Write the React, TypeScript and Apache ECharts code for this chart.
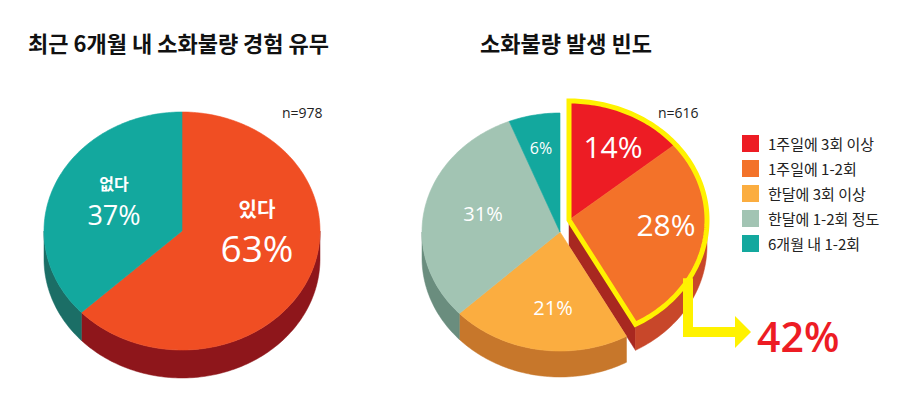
import React, { useEffect, useRef } from "react";
import * as echarts from "echarts";

// ---------------- data ----------------
const leftTitle = "최근 6개월 내 소화불량 경험 유무";
const rightTitle = "소화불량 발생 빈도";
const leftSampleSize = "n=978";
const rightSampleSize = "n=616";

const leftCategories = ["있다", "없다"];
const leftValues = [63, 37];

const rightCategories = [
  "1주일에 3회 이상",
  "1주일에 1-2회",
  "한달에 3회 이상",
  "한달에 1-2회 정도",
  "6개월 내 1-2회",
];
const rightValues = [14, 28, 21, 31, 6];
const rightHighlighted = [true, true, false, false, false];

// ---------------- styles / layout ----------------
const leftTopColors = ["#f04e23", "#13a89e"];
const leftSideColors = ["#8e161b", "#1b6e66"];
const leftFaceColors = ["#7a1216", "#155a54"];
const rightTopColors = ["#ed1c24", "#f37229", "#fbad40", "#a2c4b3", "#13a89e"];
const rightSideColors = ["#a01e20", "#c8472a", "#c7772b", "#6a8d7e", "#0f6e66"];
const rightFaceColors = ["#8f1a1c", "#a82820", "#a8601f", "#557467", "#0c5c55"];

const FONT_KR = '"Noto Sans CJK KR", "Noto Sans", sans-serif';
const FONT_NUM = '"Open Sans", "Noto Sans", sans-serif';

const LEFT_PIE = { cx: 182, cy: 231, rx: 138, ry: 119, depth: 28, dx: 0, dy: 0 };
const RIGHT_PIE = { cx: 560, cy: 232, rx: 138, ry: 119, depth: 26, dx: 9, dy: -12 };

// label positions relative to pie centre
const leftLabelLayout = [
  { name: [75, -23], value: [75, 16], nameSize: 20, valueSize: 37 },
  { name: [-68, -48], value: [-68, -17], nameSize: 16, valueSize: 27 },
];
const rightLabelLayout = [
  { value: [53, -86], size: 30 },
  { value: [106, -8], size: 30 },
  { value: [-7, 75], size: 20 },
  { value: [-77, -19], size: 20 },
  { value: [-19, -84], size: 16 },
];

const HIGHLIGHT = "#fff200";
const CALLOUT_RED = "#ed1c24";

// ---------------- geometry helpers ----------------
function pt(cx: number, cy: number, rx: number, ry: number, deg: number) {
  const r = (deg * Math.PI) / 180;
  return [cx + rx * Math.sin(r), cy - ry * Math.cos(r)];
}
function arc(cx: number, cy: number, rx: number, ry: number, a0: number, a1: number) {
  const n = Math.max(2, Math.ceil(Math.abs(a1 - a0) / 1.2));
  const pts: number[][] = [];
  for (let k = 0; k <= n; k++) pts.push(pt(cx, cy, rx, ry, a0 + ((a1 - a0) * k) / n));
  return pts;
}
function angleInfo(values: number[]) {
  const total = values.reduce((a, b) => a + b, 0);
  const starts: number[] = [];
  let acc = 0;
  values.forEach((v) => {
    starts.push((acc / total) * 360);
    acc += v;
  });
  return { total, starts };
}

function sideSeries(id: string, pie: any, cats: string[], values: number[], sideColors: string[], faceColors: string[], exploded?: boolean[]) {
  const { total, starts } = angleInfo(values);
  return {
    type: "custom",
    id,
    coordinateSystem: "none",
    silent: true,
    z: 1,
    data: values.map((v, i) => ({ name: cats[i], value: [v] })),
    renderItem: (params: any, api: any) => {
      const i = params.dataIndex;
      const v = api.value(0);
      const a0 = starts[i];
      const a1 = a0 + (v / total) * 360;
      const ex = exploded ? exploded[i] : false;
      const cx = pie.cx + (ex ? pie.dx : 0);
      const cy = pie.cy + (ex ? pie.dy : 0);
      const d = pie.depth;
      const children: any[] = [];
      const n = values.length;
      const faceAt = (a: number, normal: number) => {
        if (Math.cos((normal * Math.PI) / 180) > -0.02) return;
        const p = pt(cx, cy, pie.rx, pie.ry, a);
        children.push({
          type: "polygon",
          shape: { points: [[cx, cy], p, [p[0], p[1] + d], [cx, cy + d]] },
          style: { fill: faceColors[i], stroke: faceColors[i], lineWidth: 0.5 },
        });
      };
      if (exploded) {
        const prev = (i - 1 + n) % n;
        const next = (i + 1) % n;
        if (exploded[prev] !== ex) faceAt(a0, a0 - 90);
        if (exploded[next] !== ex) faceAt(a1, a1 + 90);
      }
      const s = Math.max(a0, 90);
      const e = Math.min(a1, 270);
      if (e > s) {
        const top = arc(cx, cy, pie.rx, pie.ry, s, e);
        const bottom = top.map((p) => [p[0], p[1] + d]).reverse();
        children.push({
          type: "polygon",
          shape: { points: top.concat(bottom) },
          style: { fill: sideColors[i], stroke: sideColors[i], lineWidth: 0.5 },
        });
      }
      return { type: "group", children };
    },
  };
}

function topSeries(id: string, pie: any, cats: string[], values: number[], topColors: string[], labelFn: (i: number, v: number) => any[], exploded?: boolean[]) {
  const { total, starts } = angleInfo(values);
  return {
    type: "custom",
    id,
    coordinateSystem: "none",
    silent: true,
    z: 2,
    data: values.map((v, i) => ({ name: cats[i], value: [v] })),
    renderItem: (params: any, api: any) => {
      const i = params.dataIndex;
      const v = api.value(0);
      const a0 = starts[i];
      const a1 = a0 + (v / total) * 360;
      const ex = exploded ? exploded[i] : false;
      const cx = pie.cx + (ex ? pie.dx : 0);
      const cy = pie.cy + (ex ? pie.dy : 0);
      const pts = [[cx, cy]].concat(arc(cx, cy, pie.rx, pie.ry, a0, a1));
      return {
        type: "group",
        children: [
          {
            type: "polygon",
            shape: { points: pts },
            style: { fill: topColors[i], stroke: topColors[i], lineWidth: 0.6 },
          },
          ...labelFn(i, v),
        ],
      };
    },
  };
}

function txt(x: number, y: number, text: string, size: number, family: string, weight: any, color: string, align = "center") {
  return {
    type: "text",
    x,
    y,
    style: { text, fill: color, fontSize: size, fontFamily: family, fontWeight: weight, align, verticalAlign: "middle" },
  };
}

function calloutSeries(pie: any, values: number[], exploded: boolean[]) {
  const { total, starts } = angleInfo(values);
  const idx = exploded.map((e, i) => (e ? i : -1)).filter((i) => i >= 0);
  const sum = idx.reduce((a, i) => a + values[i], 0);
  return {
    type: "custom",
    id: "callout",
    coordinateSystem: "none",
    silent: true,
    z: 3,
    data: [{ name: "highlight", value: [sum] }],
    renderItem: (params: any, api: any) => {
      const v = api.value(0);
      const a0 = starts[idx[0]];
      const a1 = a0 + (v / total) * 360;
      const cx = pie.cx + pie.dx;
      const cy = pie.cy + pie.dy;
      const outline = [[cx, cy]].concat(arc(cx, cy, pie.rx, pie.ry, a0, a1));
      const ax = 688;
      const aAng = 180 - (Math.asin((ax - cx) / pie.rx) * 180) / Math.PI;
      const ay = cy - pie.ry * Math.cos((aAng * Math.PI) / 180);
      return {
        type: "group",
        children: [
          {
            type: "polyline",
            shape: { points: [[ax, ay - 2], [ax, 332], [737, 332]] },
            style: { stroke: HIGHLIGHT, lineWidth: 10, fill: null, lineJoin: "miter" },
          },
          {
            type: "polygon",
            shape: { points: [[735, 316], [751, 332], [735, 348]] },
            style: { fill: HIGHLIGHT },
          },
          {
            type: "polygon",
            shape: { points: outline },
            style: { fill: null, stroke: HIGHLIGHT, lineWidth: 5, lineJoin: "miter" },
          },
          txt(757, 336, `${v}%`, 41, FONT_NUM, 600, CALLOUT_RED, "left"),
        ],
      };
    },
  };
}

export default function App() {
  const ref = useRef<HTMLDivElement>(null);
  useEffect(() => {
    document.body.style.margin = "0";
    if (!ref.current) return;
    const chart = echarts.init(ref.current, null, { renderer: "svg" });

    const leftLabels = (i: number, v: number) => {
      const L = leftLabelLayout[i];
      return [
        txt(LEFT_PIE.cx + L.name[0], LEFT_PIE.cy + L.name[1], leftCategories[i], L.nameSize, FONT_KR, "bold", "#ffffff"),
        txt(LEFT_PIE.cx + L.value[0], LEFT_PIE.cy + L.value[1], `${v}%`, L.valueSize, FONT_NUM, 500, "#ffffff"),
      ];
    };
    const rightLabels = (i: number, v: number) => {
      const L = rightLabelLayout[i];
      return [txt(RIGHT_PIE.cx + L.value[0], RIGHT_PIE.cy + L.value[1], `${v}%`, L.size, FONT_NUM, 500, "#ffffff")];
    };

    const legendItems: any[] = [];
    rightCategories.forEach((c, i) => {
      legendItems.push({
        type: "rect",
        shape: { x: 742, y: 135 + i * 25, width: 17, height: 17 },
        style: { fill: rightTopColors[i] },
      });
      legendItems.push(txt(768, 143.5 + i * 25, c, 15, FONT_KR, "normal", "#222222", "left"));
    });

    const option: any = {
      animation: false,
      backgroundColor: "#ffffff",
      graphic: [
        txt(28, 42, leftTitle, 22, FONT_KR, "bold", "#111111", "left"),
        txt(480, 42, rightTitle, 22, FONT_KR, "bold", "#111111", "left"),
        txt(282, 112, leftSampleSize, 14, FONT_NUM, "normal", "#222222", "left"),
        txt(658, 112, rightSampleSize, 14, FONT_NUM, "normal", "#222222", "left"),
        ...legendItems,
      ],
      series: [
        sideSeries("leftSide", LEFT_PIE, leftCategories, leftValues, leftSideColors, leftFaceColors),
        topSeries("leftTop", LEFT_PIE, leftCategories, leftValues, leftTopColors, leftLabels),
        sideSeries("rightSide", RIGHT_PIE, rightCategories, rightValues, rightSideColors, rightFaceColors, rightHighlighted),
        topSeries("rightTop", RIGHT_PIE, rightCategories, rightValues, rightTopColors, rightLabels, rightHighlighted),
        calloutSeries(RIGHT_PIE, rightValues, rightHighlighted),
      ],
    };
    chart.setOption(option);
    return () => chart.dispose();
  }, []);
  return <div ref={ref} style={{ width: 914, height: 397 }} />;
}
